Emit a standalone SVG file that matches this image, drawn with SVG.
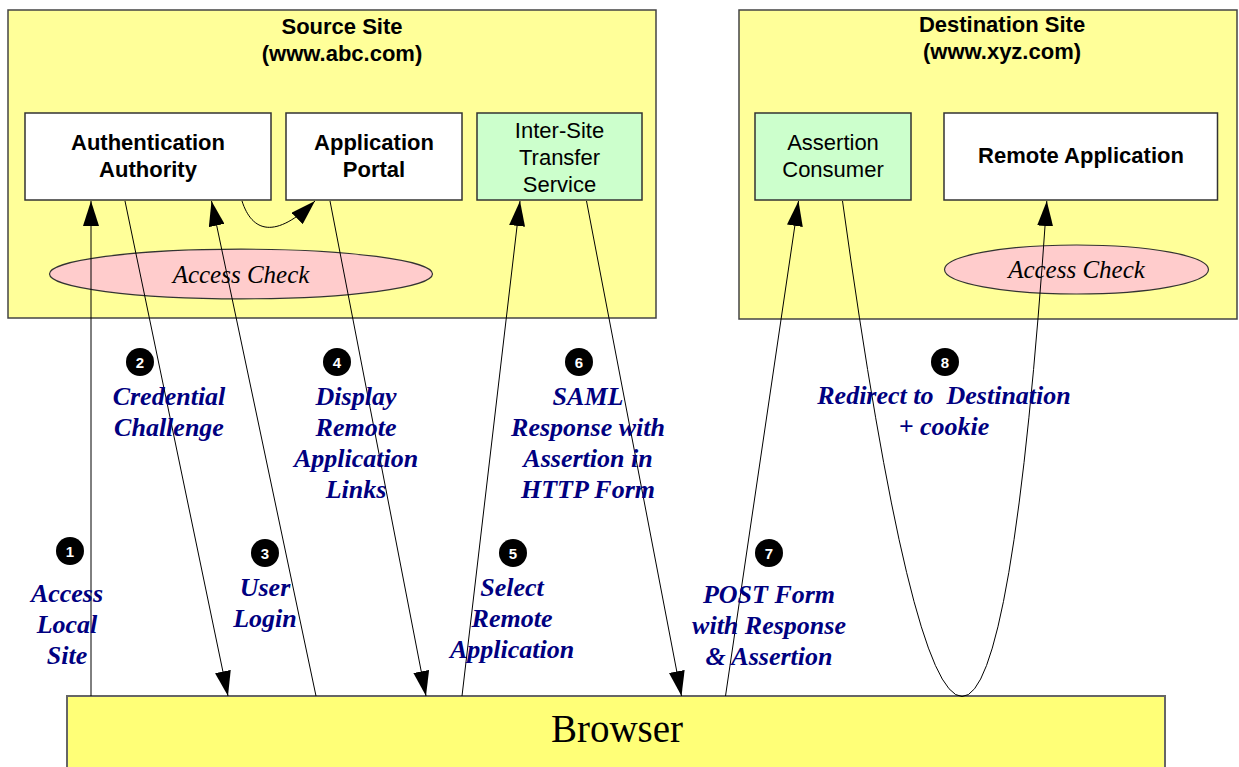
<svg xmlns="http://www.w3.org/2000/svg" width="1239" height="767" viewBox="0 0 1239 767">
<style>
.site{fill:#FFFF99;stroke:#444;stroke-width:1.5}
.box{fill:#FFFFFF;stroke:#333;stroke-width:1.5}
.gbox{fill:#CCFFCC;stroke:#333;stroke-width:1.5}
.ell{fill:#FFCCCC;stroke:#333;stroke-width:1.2}
.brow{fill:#FFFF77;stroke:#666;stroke-width:2}
.t{font-family:"Liberation Sans",Arial,sans-serif;font-size:22px;text-anchor:middle;fill:#000}
.b{font-weight:bold}
.ac{font-family:"Liberation Serif","Times New Roman",serif;font-style:italic;font-size:25px;text-anchor:middle;fill:#000}
.lbl{font-family:"Liberation Serif","Times New Roman",serif;font-style:italic;font-weight:bold;font-size:26px;text-anchor:middle;fill:#000080}
.num{fill:#000}
.numt{font-family:"Liberation Sans",Arial,sans-serif;font-weight:bold;font-size:15px;text-anchor:middle;fill:#fff}
.conn{fill:none;stroke:#000;stroke-width:1}
</style>
<defs>
<marker id="ah" viewBox="0 0 25 16" refX="25" refY="8" markerWidth="25" markerHeight="16" markerUnits="userSpaceOnUse" orient="auto">
<path d="M0,0 L25,8 L0,16 z" fill="#000"/>
</marker>
</defs>

<g id="source-site">
<rect class="site" x="8" y="10" width="648" height="308"/>
<text class="t b" x="342" y="34">Source Site</text>
<text class="t b" x="342" y="61">(www.abc.com)</text>
</g>
<g id="dest-site">
<rect class="site" x="739" y="10" width="498" height="309"/>
<text class="t b" x="1002" y="32">Destination Site</text>
<text class="t b" x="1002" y="59">(www.xyz.com)</text>
</g>

<g id="auth-authority">
<rect class="box" x="25" y="113" width="246" height="87"/>
<text class="t b" x="148" y="150">Authentication</text>
<text class="t b" x="148" y="177">Authority</text>
</g>
<g id="app-portal">
<rect class="box" x="286" y="113" width="176" height="87"/>
<text class="t b" x="374" y="150">Application</text>
<text class="t b" x="374" y="177">Portal</text>
</g>
<g id="inter-site">
<rect class="gbox" x="477" y="113" width="165" height="87"/>
<text class="t" x="559.5" y="138">Inter-Site</text>
<text class="t" x="559.5" y="165">Transfer</text>
<text class="t" x="559.5" y="192">Service</text>
</g>
<g id="access-check-src">
<ellipse class="ell" cx="241" cy="274" rx="191.5" ry="24.8"/>
<text class="ac" x="241" y="283">Access Check</text>
</g>
<g id="assertion-consumer">
<rect class="gbox" x="755" y="113" width="156" height="87"/>
<text class="t" x="833" y="150">Assertion</text>
<text class="t" x="833" y="177">Consumer</text>
</g>
<g id="remote-app">
<rect class="box" x="944" y="113" width="273.5" height="87"/>
<text class="t b" x="1081" y="163">Remote Application</text>
</g>
<g id="access-check-dst">
<ellipse class="ell" cx="1076.5" cy="269.5" rx="132" ry="24.5"/>
<text class="ac" x="1076.5" y="278">Access Check</text>
</g>
<g id="browser">
<rect class="brow" x="67" y="696" width="1098" height="90"/>
<text x="617" y="742" style="font-family:'Liberation Serif','Times New Roman',serif;font-size:39px;text-anchor:middle;fill:#000">Browser</text>
</g>

<g id="connectors">
<line class="conn" x1="91" y1="696" x2="91" y2="201" marker-end="url(#ah)"/>
<line class="conn" x1="125" y1="201" x2="228" y2="696" marker-end="url(#ah)"/>
<line class="conn" x1="316" y1="696" x2="211.5" y2="201" marker-end="url(#ah)"/>
<path class="conn" d="M242,201 C252,232 275,240 315,201" marker-end="url(#ah)"/>
<line class="conn" x1="330" y1="201" x2="426" y2="696" marker-end="url(#ah)"/>
<line class="conn" x1="462" y1="696" x2="520" y2="201" marker-end="url(#ah)"/>
<line class="conn" x1="586.5" y1="201" x2="681.5" y2="696" marker-end="url(#ah)"/>
<line class="conn" x1="725.5" y1="696" x2="798.5" y2="201" marker-end="url(#ah)"/>
<path class="conn" d="M842.5,201 Q979.5,1192 1046.8,201" marker-end="url(#ah)"/>
</g>

<g id="step-1">
<circle class="num" cx="70" cy="551" r="14"/>
<text class="numt" x="70" y="556.5">1</text>
<text class="lbl" x="67" y="602">Access</text>
<text class="lbl" x="67" y="633">Local</text>
<text class="lbl" x="67" y="664">Site</text>
</g>
<g id="step-2">
<circle class="num" cx="140" cy="362" r="14"/>
<text class="numt" x="140" y="367.5">2</text>
<text class="lbl" x="169" y="405">Credential</text>
<text class="lbl" x="169" y="436">Challenge</text>
</g>
<g id="step-3">
<circle class="num" cx="265" cy="553" r="14"/>
<text class="numt" x="265" y="558.5">3</text>
<text class="lbl" x="265" y="596">User</text>
<text class="lbl" x="265" y="627">Login</text>
</g>
<g id="step-4">
<circle class="num" cx="337" cy="362" r="14"/>
<text class="numt" x="337" y="367.5">4</text>
<text class="lbl" x="356" y="405">Display</text>
<text class="lbl" x="356" y="436">Remote</text>
<text class="lbl" x="356" y="467">Application</text>
<text class="lbl" x="356" y="498">Links</text>
</g>
<g id="step-5">
<circle class="num" cx="513" cy="553" r="14"/>
<text class="numt" x="513" y="558.5">5</text>
<text class="lbl" x="512" y="596">Select</text>
<text class="lbl" x="512" y="627">Remote</text>
<text class="lbl" x="512" y="658">Application</text>
</g>
<g id="step-6">
<circle class="num" cx="579" cy="362" r="14"/>
<text class="numt" x="579" y="367.5">6</text>
<text class="lbl" x="588" y="405">SAML</text>
<text class="lbl" x="588" y="436">Response with</text>
<text class="lbl" x="588" y="467">Assertion in</text>
<text class="lbl" x="588" y="498">HTTP Form</text>
</g>
<g id="step-7">
<circle class="num" cx="769" cy="553" r="14"/>
<text class="numt" x="769" y="558.5">7</text>
<text class="lbl" x="769" y="603">POST Form</text>
<text class="lbl" x="769" y="634">with Response</text>
<text class="lbl" x="769" y="665">&amp; Assertion</text>
</g>
<g id="step-8">
<circle class="num" cx="945" cy="362" r="14"/>
<text class="numt" x="945" y="367.5">8</text>
<text class="lbl" x="944" y="404" xml:space="preserve">Redirect to  Destination</text>
<text class="lbl" x="944" y="435">+ cookie</text>
</g>
</svg>
